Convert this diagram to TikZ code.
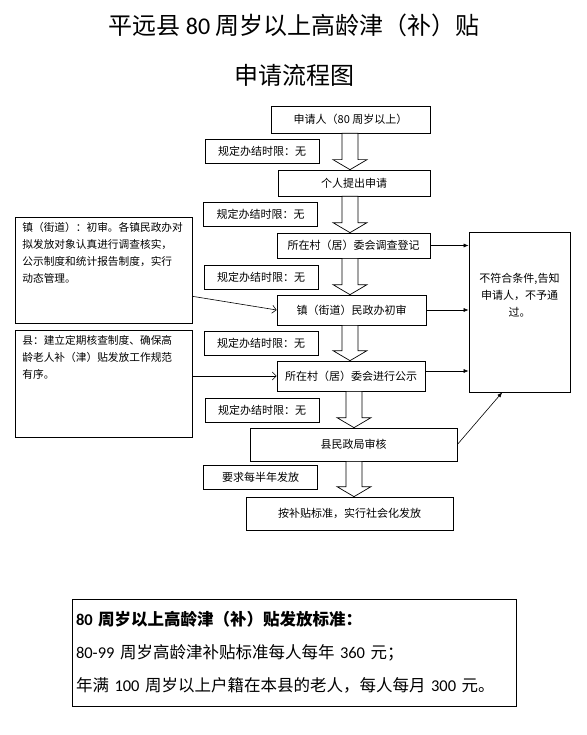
\documentclass[tikz,border=0pt]{standalone}
\usepackage{fontspec}
\setmainfont{Noto Sans CJK SC}
\newfontfamily\lat{Carlito}
\usepackage{tikz}
\usetikzlibrary{arrows.meta,calc}

\newcommand{\fatarrow}[3]{%
  \draw[fat] let \p1=(#1.south), \p2=(#2.north) in
    (#3pt-8pt,\y1) -- (#3pt+8pt,\y1) -- (#3pt+8pt,\y2+10pt) -- (#3pt+17pt,\y2+10pt)
    -- (#3pt,\y2) -- (#3pt-17pt,\y2+10pt) -- (#3pt-8pt,\y2+10pt) -- cycle;}

\begin{document}
\begin{tikzpicture}[x=1pt, y=-1pt, font=\fontsize{11}{13}\selectfont,
  st/.style={draw, line width=0.7pt, inner sep=0pt, align=center},
  lim/.style={st, minimum width=114pt, minimum height=24pt},
  note/.style={st, anchor=north west, minimum width=177pt, font=\fontsize{10.7}{17}\selectfont},
  fat/.style={draw, fill=white, line width=0.7pt},
  ar/.style={-{Latex[length=5pt,width=4pt]}, line width=0.6pt},
  op/.style={-{Straight Barb[length=4pt,width=8pt]}, line width=0.6pt}]
\fill[white] (0,0) rectangle (586,735);
\useasboundingbox (0,0) rectangle (586,735);

\node[font=\fontsize{24}{50}\selectfont, align=center] (title) at (294,50)
  {平远县 {\lat 80} 周岁以上高龄津（补）贴\\申请流程图};

\node[st, minimum width=159pt, minimum height=27pt] (apply) at (350.5,119.5) {申请人（80 周岁以上）};
\node[lim] (lim1) at (262,151.5) {规定办结时限：无};
\node[st, minimum width=152pt, minimum height=26pt] (submit) at (354,183) {个人提出申请};
\node[lim] (lim2) at (260.5,214) {规定办结时限：无};
\node[st, minimum width=153pt, minimum height=25pt] (village) at (353.5,245.5) {所在村（居）委会调查登记};
\node[lim] (lim3) at (261,277) {规定办结时限：无};
\node[st, minimum width=149pt, minimum height=30pt] (town) at (351.5,310) {镇（街道）民政办初审};
\node[lim] (lim4) at (261,343) {规定办结时限：无};
\node[st, minimum width=148pt, minimum height=30pt] (publish) at (351,376) {所在村（居）委会进行公示};
\node[lim] (lim5) at (262,410) {规定办结时限：无};
\node[st, minimum width=207pt, minimum height=33pt] (county) at (353.5,444.5) {县民政局审核};
\node[lim] (lim6) at (260.5,477) {要求每半年发放};
\node[st, minimum width=207pt, minimum height=33pt] (pay) at (349.5,513.5) {按补贴标准，实行社会化发放};

\node[st, minimum width=101pt, minimum height=160pt] (reject) at (519.5,312) {};
\node[align=center, font=\fontsize{11}{17}\selectfont] (rejtext) at (519.5,295)
  {不符合条件,告知\\申请人，不予通\\过。};

\node[note, minimum height=106pt] (townnote) at (15,217) {\parbox[c][96pt][t]{163pt}{%
  镇（街道）：初审。各镇民政办对\\拟发放对象认真进行调查核实，\\公示制度和统计报告制度，实行\\动态管理。}};
\node[note, minimum height=107pt] (countynote) at (15,330) {\parbox[c][97pt][t]{163pt}{%
  县：建立定期核查制度、确保高\\龄老人补（津）贴发放工作规范\\有序。}};

\node[st, minimum width=444pt, minimum height=107pt, align=left, text width=436pt,
  font=\fontsize{16.5}{33}\selectfont] (std) at (294,652.5)
  {\textbf{{\lat 80} 周岁以上高龄津（补）贴发放标准：}\\
   {\lat 80-99} 周岁高龄津补贴标准每人每年 {\lat 360} 元；\\
   年满 {\lat 100} 周岁以上户籍在本县的老人，每人每月 {\lat 300} 元。};

\fatarrow{apply}{submit}{350}
\fatarrow{submit}{village}{350}
\fatarrow{village}{town}{350}
\fatarrow{town}{publish}{350}
\fatarrow{publish}{county}{354}
\fatarrow{county}{pay}{354}

\draw[ar] (village.east) -- (village.east -| reject.west);
\draw[ar] (town.east) -- (town.east -| reject.west);
\draw[ar] (publish.east) ++(0,-5) -- ($(publish.east -| reject.west)+(0,-5)$);
\draw[ar] (county.east) -- ($(reject.south west)!0.33!(reject.south east)$);
\draw[op] (townnote.east) ++(0,26) -- (town.west);
\draw[op] (countynote.east |- publish.west) -- (publish.west);
\end{tikzpicture}
\end{document}
